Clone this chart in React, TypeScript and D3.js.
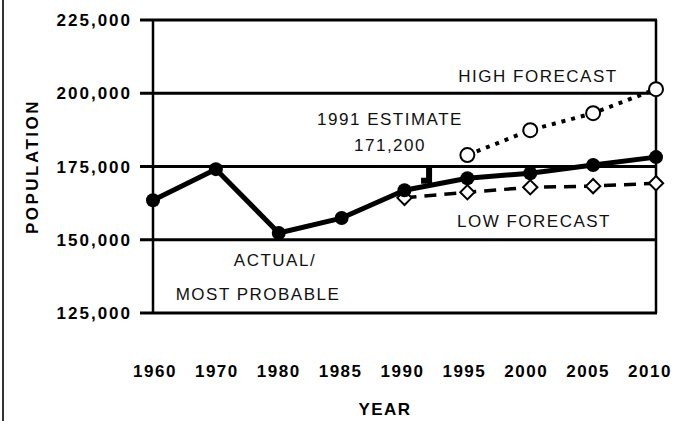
import React from 'react';
import * as d3 from 'd3';

// population by year
const years = ['1960', '1970', '1980', '1985', '1990', '1995', '2000', '2005', '2010'];
const actualValues = [163500, 174100, 152300, 157400, 166900, 171000, 172700, 175500, 178200];
const highYears = ['1995', '2000', '2005', '2010'];
const highValues = [178900, 187400, 193200, 201400];
const lowYears = ['1990', '1995', '2000', '2005', '2010'];
const lowValues = [164300, 166200, 167900, 168300, 169300];
const yTicks = [125000, 150000, 175000, 200000, 225000];
const estimateYear = 1991;
const estimateValue = 171200;

const width = 689;
const height = 421;
const margin = { top: 20, right: 33, bottom: 108, left: 153 };

const font = '"Liberation Sans", Arial, sans-serif';

const App: React.FC = () => {
  const innerRight = width - margin.right;
  const innerBottom = height - margin.bottom;

  const x = d3.scalePoint<string>().domain(years).range([margin.left, innerRight]);
  // tick labels of the scan drift slightly left of the points
  const xLabel = d3.scalePoint<string>().domain(years).range([margin.left + 2, innerRight - 6]);
  const y = d3.scaleLinear().domain([125000, 225000]).range([innerBottom, margin.top]);

  const line = d3.line<[string, number]>()
    .x(d => x(d[0]) as number)
    .y(d => y(d[1]));

  const actual = years.map((yr, i) => [yr, actualValues[i]] as [string, number]);
  const high = highYears.map((yr, i) => [yr, highValues[i]] as [string, number]);
  const low = lowYears.map((yr, i) => [yr, lowValues[i]] as [string, number]);

  // 1991 estimate sits between the 1990 and 1995 points
  const yearLin = d3.scaleLinear().domain([1990, 1995]).range([x('1990') as number, x('1995') as number]);
  const ex = yearLin(estimateYear) + 12;
  const eyTop = y(175000) + 2;
  const eyBot = y(estimateValue) + 3;

  const diamond = d3.symbol().type(d3.symbolDiamond2).size(130)();

  const labelStyle = { fontFamily: font, fontSize: 17, letterSpacing: 1.5, fill: '#111' } as const;
  const boldStyle = { fontFamily: font, fontSize: 17, fontWeight: 700, letterSpacing: 1.5, fill: '#000' } as const;

  return (
    <svg
      width={width}
      height={height}
      style={{ position: 'absolute', left: 0, top: 0, background: '#fff' }}
    >
      {/* page edge from the scan */}
      <line x1={3} x2={3} y1={0} y2={height} stroke="#333" strokeWidth={2} />

      {/* horizontal grid / tick lines */}
      {yTicks.map(t => (
        <line
          key={t}
          x1={margin.left - 13}
          x2={innerRight + 1}
          y1={y(t)}
          y2={y(t)}
          stroke="#000"
          strokeWidth={3}
        />
      ))}
      <line x1={margin.left} x2={margin.left} y1={margin.top} y2={innerBottom} stroke="#000" strokeWidth={2.5} />
      <line x1={innerRight} x2={innerRight} y1={margin.top} y2={innerBottom} stroke="#000" strokeWidth={2.5} />

      {/* y tick labels */}
      {yTicks.map(t => (
        <text key={t} x={132} y={y(t)} dy="0.36em" textAnchor="end" style={{ ...boldStyle, letterSpacing: 2 }}>
          {d3.format(',')(t)}
        </text>
      ))}

      {/* x tick labels */}
      {years.map(yr => (
        <text key={yr} x={xLabel(yr)} y={377} textAnchor="middle" style={boldStyle}>
          {yr}
        </text>
      ))}

      <text x={385} y={415} textAnchor="middle" style={boldStyle}>YEAR</text>
      <text
        transform={`translate(32,${(margin.top + innerBottom) / 2}) rotate(-90)`}
        dy="0.36em"
        textAnchor="middle"
        style={{ ...boldStyle, letterSpacing: 2.5 }}
      >
        POPULATION
      </text>

      {/* high forecast (dotted) */}
      <path d={line(high) || ''} fill="none" stroke="#000" strokeWidth={4} strokeDasharray="4,6" />
      {/* low forecast (dashed) */}
      <path d={line(low) || ''} fill="none" stroke="#000" strokeWidth={3.5} strokeDasharray="12,8" />
      {/* actual / most probable */}
      <path d={line(actual) || ''} fill="none" stroke="#000" strokeWidth={5} strokeLinejoin="round" />

      {low.map(d => (
        <path
          key={'l' + d[0]}
          d={diamond || ''}
          transform={`translate(${x(d[0])},${y(d[1])})`}
          fill="#fff"
          stroke="#000"
          strokeWidth={2}
        />
      ))}
      {high.map(d => (
        <circle key={'h' + d[0]} cx={x(d[0])} cy={y(d[1])} r={7} fill="#fff" stroke="#000" strokeWidth={2} />
      ))}
      {actual.map(d => (
        <circle key={'a' + d[0]} cx={x(d[0])} cy={y(d[1])} r={7} fill="#000" />
      ))}

      {/* 1991 estimate marker */}
      <path
        d={`M${ex + 3},${eyTop} L${ex},${eyTop} L${ex},${eyBot} L${ex - 8},${eyBot}`}
        fill="none"
        stroke="#000"
        strokeWidth={6}
      />

      {/* annotations */}
      <text x={538} y={82} textAnchor="middle" style={labelStyle}>HIGH FORECAST</text>
      <text x={390} y={125} textAnchor="middle" style={labelStyle}>1991 ESTIMATE</text>
      <text x={390} y={151} textAnchor="middle" style={labelStyle}>171,200</text>
      <text x={534} y={227} textAnchor="middle" style={labelStyle}>LOW FORECAST</text>
      <text x={275} y={266} textAnchor="middle" style={labelStyle}>ACTUAL/</text>
      <text x={258} y={300} textAnchor="middle" style={labelStyle}>MOST PROBABLE</text>
    </svg>
  );
};

export default App;
